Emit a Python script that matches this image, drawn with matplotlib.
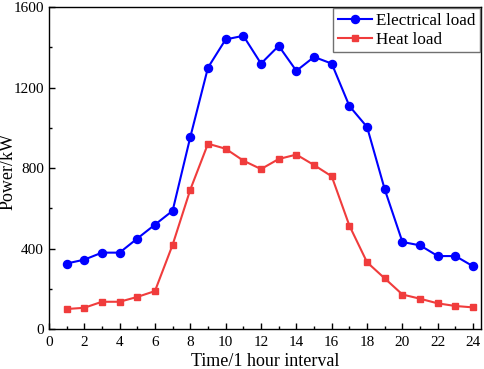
import matplotlib
matplotlib.use("Agg")
import matplotlib.pyplot as plt
from matplotlib.ticker import MultipleLocator

hours = list(range(1, 25))
electrical = [326, 345, 380, 380, 450, 519, 588, 954, 1299, 1439, 1457, 1319,
              1407, 1283, 1352, 1319, 1108, 1004, 694, 433, 416, 363, 363, 312]
heat = [100, 106, 136, 136, 160, 189, 419, 693, 921, 896, 837, 795,
        845, 867, 815, 759, 514, 332, 252, 172, 151, 128, 115, 108]

plt.rcParams['font.family'] = ['Liberation Serif', 'DejaVu Serif']

fig = plt.figure(figsize=(4.84, 3.69), dpi=100)
ax = fig.add_axes([0.101, 0.108, 0.893, 0.873])

ax.plot(hours, electrical, color='#0000FF', lw=1.5, marker='o', ms=5.8,
        label='Electrical load')
ax.plot(hours, heat, color='#F03C3C', lw=1.5, marker='s', ms=5.0,
        label='Heat load')

ax.set_xlim(0, 24.45)
ax.set_ylim(0, 1600)
ax.xaxis.set_major_locator(MultipleLocator(2))
ax.xaxis.set_minor_locator(MultipleLocator(1))
ax.yaxis.set_major_locator(MultipleLocator(400))
ax.yaxis.set_minor_locator(MultipleLocator(200))
ax.tick_params(which='both', direction='in', top=False, right=False, labelsize=11)
ax.tick_params(which='major', length=4, width=1)
ax.tick_params(which='minor', length=2.5, width=1)
ax.tick_params(axis='x', pad=5)
for s in ax.spines.values():
    s.set_linewidth(1.0)

ax.set_xlabel('Time/1 hour interval', fontsize=13)
ax.xaxis.set_label_coords(0.5, -0.075)
ax.xaxis.label.set_va('top')
ax.set_ylabel('Power/kW', fontsize=13)
ax.yaxis.set_label_coords(-0.076, 0.49)

leg = ax.legend(loc='upper right', fontsize=12.3, fancybox=False, framealpha=1,
                edgecolor='#707070', borderaxespad=0.08, handlelength=2.0,
                handletextpad=0.25, borderpad=0.25, labelspacing=0.2)
leg.get_frame().set_linewidth(1.0)

fig.savefig('out.png', dpi=100)
